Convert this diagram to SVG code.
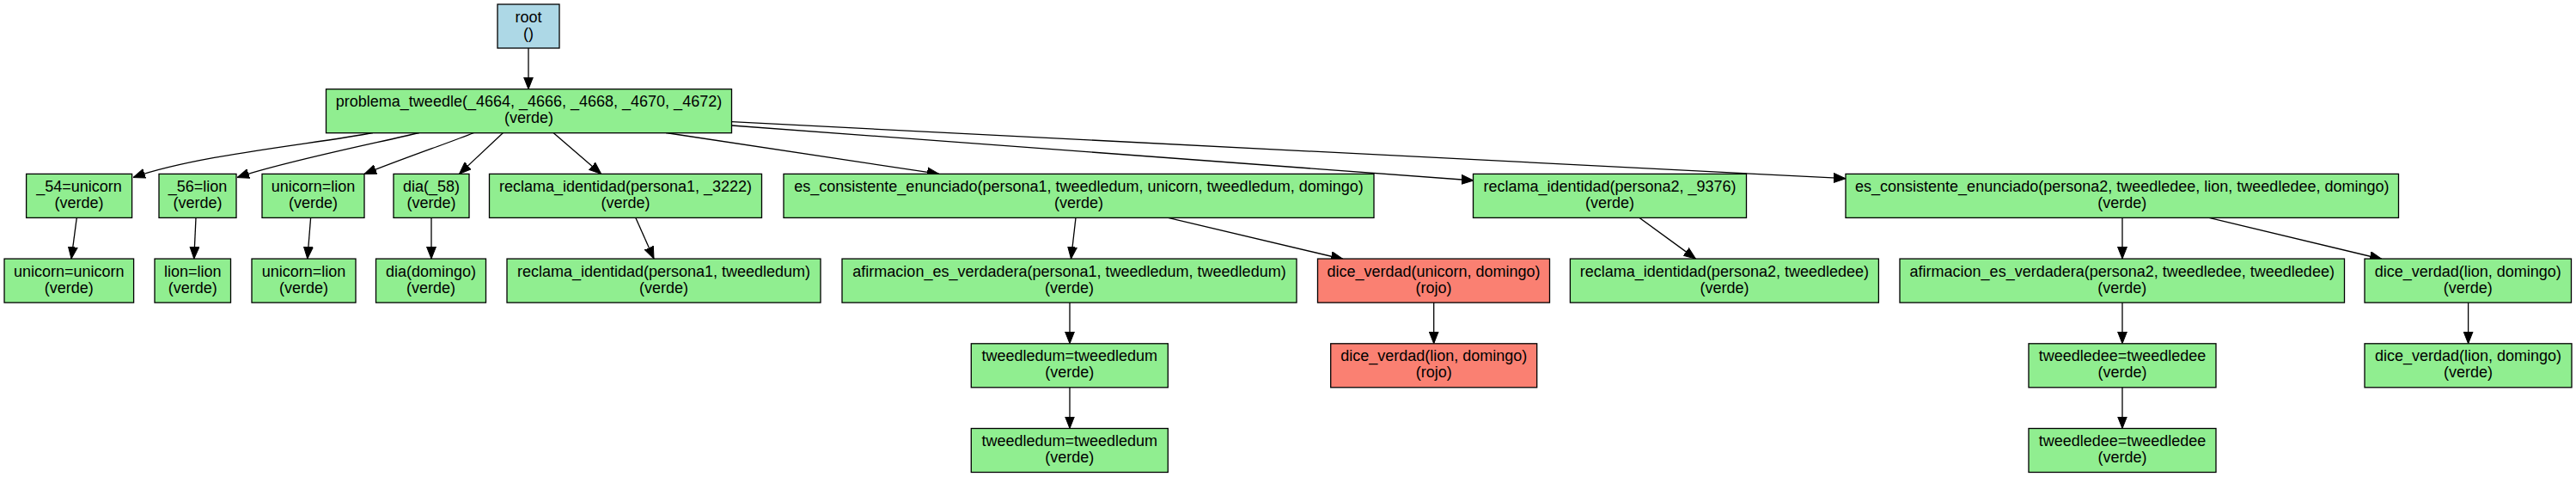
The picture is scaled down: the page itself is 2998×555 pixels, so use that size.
<svg xmlns="http://www.w3.org/2000/svg" width="2998" height="555" viewBox="0 0 2998 555">
<style>
rect{stroke:#000;stroke-width:1.3}
.g{fill:#90ee90}
.r{fill:#fa8072}
.b{fill:#add8e6}
text{font-family:"Liberation Sans",Arial,sans-serif;font-size:18px;fill:#000;text-anchor:middle}
.e path{fill:none;stroke:#000;stroke-width:1.3;marker-end:url(#ah)}
</style>
<defs>
<marker id="ah" markerUnits="userSpaceOnUse" markerWidth="14" markerHeight="12" viewBox="0 0 14 12" refX="14" refY="6" orient="auto">
<path d="M0,0.5 L14,6 L0,11.5 Z" fill="#000" stroke="#000" stroke-width="1"/>
</marker>
</defs>
<rect width="2998" height="555" fill="#fff" style="stroke:none"/>
<g class="e" id="edges">
<path d="M615,56 L615,103.7"/>
<path d="M434,154.5 C370,167 230,180 155,206.5"/>
<path d="M488,154.5 C440,166 330,188 276,206.5"/>
<path d="M551.7,154.5 C520,167 470,184 424,202.4"/>
<path d="M585.5,154.5 L534.5,202.4"/>
<path d="M644,154.5 L699.7,202.4"/>
<path d="M775,154.5 L1093,202.4"/>
<path d="M851.5,146 L1715,210"/>
<path d="M851.5,141.7 L2148,207.7"/>
<path d="M89.3,253.4 L83,301.1"/>
<path d="M228,253.4 L225.8,301.1"/>
<path d="M361.6,253.4 L357.8,301.1"/>
<path d="M502,253.4 L502,301.1"/>
<path d="M739.8,253.4 L761,301.1"/>
<path d="M1252,253.4 L1246.5,301.1"/>
<path d="M1359.5,253.4 L1563,301.5"/>
<path d="M1908,253.4 L1973.5,301.1"/>
<path d="M2470,253.4 L2470,301.1"/>
<path d="M2571,253.4 L2772,301.5"/>
<path d="M1245,352.1 L1245,399.8"/>
<path d="M1668.7,352.1 L1668.7,399.8"/>
<path d="M2470,352.1 L2470,399.8"/>
<path d="M2872.6,352.1 L2872.6,399.8"/>
<path d="M1245,450.8 L1245,498.5"/>
<path d="M2470,450.8 L2470,498.5"/>
</g>
<g id="root"><rect class="b" x="579" y="5" width="72" height="51"/><text x="615" y="25.5">root</text><text x="615" y="44.5">()</text></g>
<g id="n1"><rect class="g" x="379.5" y="103.7" width="472" height="51"/><text x="615.5" y="124.2">problema_tweedle(_4664, _4666, _4668, _4670, _4672)</text><text x="615.5" y="143.2">(verde)</text></g>
<g id="na"><rect class="g" x="30.6" y="202.4" width="123" height="51"/><text x="92.1" y="222.9">_54=unicorn</text><text x="92.1" y="241.9">(verde)</text></g>
<g id="nb"><rect class="g" x="185" y="202.4" width="90" height="51"/><text x="230" y="222.9">_56=lion</text><text x="230" y="241.9">(verde)</text></g>
<g id="nc"><rect class="g" x="305" y="202.4" width="119" height="51"/><text x="364.5" y="222.9">unicorn=lion</text><text x="364.5" y="241.9">(verde)</text></g>
<g id="nd"><rect class="g" x="458" y="202.4" width="88" height="51"/><text x="502" y="222.9">dia(_58)</text><text x="502" y="241.9">(verde)</text></g>
<g id="ne"><rect class="g" x="569.5" y="202.4" width="317" height="51"/><text x="728" y="222.9">reclama_identidad(persona1, _3222)</text><text x="728" y="241.9">(verde)</text></g>
<g id="nf"><rect class="g" x="912" y="202.4" width="687" height="51"/><text x="1255.5" y="222.9">es_consistente_enunciado(persona1, tweedledum, unicorn, tweedledum, domingo)</text><text x="1255.5" y="241.9">(verde)</text></g>
<g id="ng"><rect class="g" x="1714.5" y="202.4" width="318" height="51"/><text x="1873.5" y="222.9">reclama_identidad(persona2, _9376)</text><text x="1873.5" y="241.9">(verde)</text></g>
<g id="nh"><rect class="g" x="2148" y="202.4" width="643.5" height="51"/><text x="2469.75" y="222.9">es_consistente_enunciado(persona2, tweedledee, lion, tweedledee, domingo)</text><text x="2469.75" y="241.9">(verde)</text></g>
<g id="na1"><rect class="g" x="5" y="301.1" width="150.6" height="51"/><text x="80.3" y="321.6">unicorn=unicorn</text><text x="80.3" y="340.6">(verde)</text></g>
<g id="nb1"><rect class="g" x="180" y="301.1" width="88.5" height="51"/><text x="224.25" y="321.6">lion=lion</text><text x="224.25" y="340.6">(verde)</text></g>
<g id="nc1"><rect class="g" x="293" y="301.1" width="121" height="51"/><text x="353.5" y="321.6">unicorn=lion</text><text x="353.5" y="340.6">(verde)</text></g>
<g id="nd1"><rect class="g" x="437.5" y="301.1" width="128" height="51"/><text x="501.5" y="321.6">dia(domingo)</text><text x="501.5" y="340.6">(verde)</text></g>
<g id="ne1"><rect class="g" x="590" y="301.1" width="365" height="51"/><text x="772.5" y="321.6">reclama_identidad(persona1, tweedledum)</text><text x="772.5" y="340.6">(verde)</text></g>
<g id="nf1"><rect class="g" x="980" y="301.1" width="529" height="51"/><text x="1244.5" y="321.6">afirmacion_es_verdadera(persona1, tweedledum, tweedledum)</text><text x="1244.5" y="340.6">(verde)</text></g>
<g id="nf2"><rect class="r" x="1533.5" y="301.1" width="270" height="51"/><text x="1668.5" y="321.6">dice_verdad(unicorn, domingo)</text><text x="1668.5" y="340.6">(rojo)</text></g>
<g id="ng1"><rect class="g" x="1827.4" y="301.1" width="359" height="51"/><text x="2006.9" y="321.6">reclama_identidad(persona2, tweedledee)</text><text x="2006.9" y="340.6">(verde)</text></g>
<g id="nh1"><rect class="g" x="2211" y="301.1" width="517.5" height="51"/><text x="2469.75" y="321.6">afirmacion_es_verdadera(persona2, tweedledee, tweedledee)</text><text x="2469.75" y="340.6">(verde)</text></g>
<g id="nh2"><rect class="g" x="2752" y="301.1" width="240.5" height="51"/><text x="2872.25" y="321.6">dice_verdad(lion, domingo)</text><text x="2872.25" y="340.6">(verde)</text></g>
<g id="nf11"><rect class="g" x="1130.3" y="399.8" width="229" height="51"/><text x="1244.8" y="420.3">tweedledum=tweedledum</text><text x="1244.8" y="439.3">(verde)</text></g>
<g id="nf21"><rect class="r" x="1548.7" y="399.8" width="240" height="51"/><text x="1668.7" y="420.3">dice_verdad(lion, domingo)</text><text x="1668.7" y="439.3">(rojo)</text></g>
<g id="nh11"><rect class="g" x="2361" y="399.8" width="218" height="51"/><text x="2470" y="420.3">tweedledee=tweedledee</text><text x="2470" y="439.3">(verde)</text></g>
<g id="nh21"><rect class="g" x="2752" y="399.8" width="241" height="51"/><text x="2872.5" y="420.3">dice_verdad(lion, domingo)</text><text x="2872.5" y="439.3">(verde)</text></g>
<g id="nf111"><rect class="g" x="1130.3" y="498.5" width="229" height="51"/><text x="1244.8" y="519">tweedledum=tweedledum</text><text x="1244.8" y="538">(verde)</text></g>
<g id="nh111"><rect class="g" x="2361" y="498.5" width="218" height="51"/><text x="2470" y="519">tweedledee=tweedledee</text><text x="2470" y="538">(verde)</text></g>
</svg>
